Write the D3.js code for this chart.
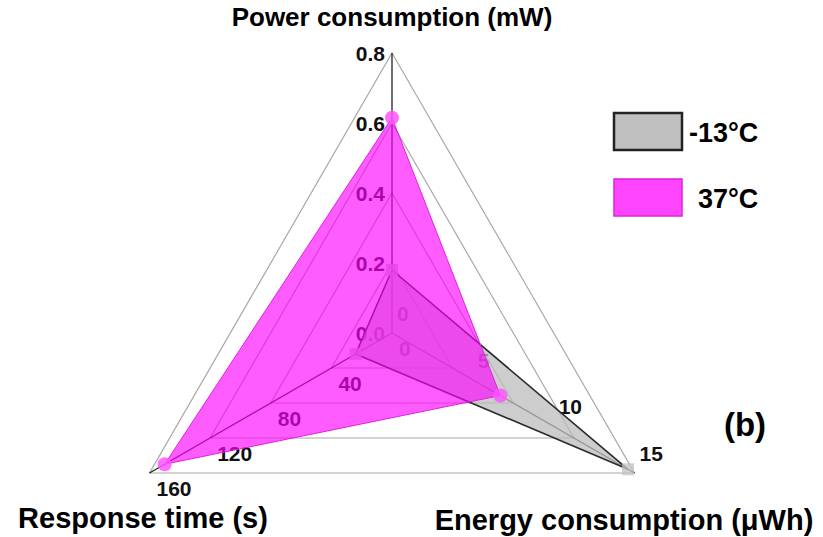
<!DOCTYPE html>
<html>
  <head>
    <title>Radar chart</title>
    <script src="https://d3js.org/d3.v7.min.js"></script>
    <style>
      body { margin: 0; background: #fff; }
      text { font-family: "Liberation Sans", Arial, sans-serif; font-weight: bold; }
    </style>
  </head>
  <body>
    <script>
      // axes of the radar, clockwise from the top
      const axisNames = ['Power consumption (mW)', 'Energy consumption (μWh)', 'Response time (s)'];
      const axisMax = [0.8, 15, 160];
      const powerTicks = [0.0, 0.2, 0.4, 0.6, 0.8];
      const energyTicks = [0, 5, 10, 15];
      const responseTicks = [0, 40, 80, 120, 160];
      const gridLevels = [0.25, 0.5, 0.75, 1];

      const seriesNames = ['-13°C', '37°C'];
      const coldValues = [0.18, 14.6, 24];
      const warmValues = [0.615, 6.7, 150];

      const w = 823;
      const h = 537;
      const cx = 392;
      const cy = 333;
      const R = 280;
      const angles = [-90, 30, 150].map(a => a * Math.PI / 180);

      const scales = axisMax.map(m => d3.scaleLinear().domain([0, m]).range([0, R]));
      const pt = (i, v) => {
        const r = scales[i](v);
        return [cx + r * Math.cos(angles[i]), cy + r * Math.sin(angles[i])];
      };

      const svg = d3.select('body')
                    .append('svg')
                    .attr('width', w)
                    .attr('height', h);

      const line = d3.line().curve(d3.curveLinearClosed);

      // grid triangles
      svg.append('g')
         .selectAll('path')
         .data(gridLevels)
         .enter()
         .append('path')
         .attr('d', f => line(axisMax.map((m, i) => pt(i, m * f))))
         .attr('fill', 'none')
         .attr('stroke', '#a8a8a8')
         .attr('stroke-width', 1.2);

      // axis spokes
      svg.append('g')
         .selectAll('line')
         .data(axisMax)
         .enter()
         .append('line')
         .attr('x1', cx)
         .attr('y1', cy)
         .attr('x2', (m, i) => pt(i, m)[0])
         .attr('y2', (m, i) => pt(i, m)[1])
         .attr('stroke', '#222')
         .attr('stroke-width', 1.3);

      // tick labels (drawn under the polygons so they tint through)
      const ticks = svg.append('g').attr('font-size', 21).attr('fill', '#111');
      ticks.selectAll('.tp')
           .data(powerTicks)
           .enter()
           .append('text')
           .attr('x', d => pt(0, d)[0] - 7)
           .attr('y', d => pt(0, d)[1] + 8)
           .attr('text-anchor', 'end')
           .text(d => d.toFixed(1));
      ticks.selectAll('.te')
           .data(energyTicks)
           .enter()
           .append('text')
           .attr('x', d => pt(1, d)[0] + 5)
           .attr('y', d => pt(1, d)[1] - 12)
           .text(d => d);
      ticks.selectAll('.tr')
           .data(responseTicks)
           .enter()
           .append('text')
           .attr('x', d => pt(2, d)[0] + 7)
           .attr('y', d => pt(2, d)[1] + 23)
           .text(d => d);

      // -13°C series
      svg.append('path')
         .attr('d', line(coldValues.map((v, i) => pt(i, v))))
         .attr('fill', '#bcbcbc')
         .attr('fill-opacity', 0.75)
         .attr('stroke', '#2a2a2a')
         .attr('stroke-width', 1.6);
      svg.append('g')
         .selectAll('rect')
         .data(coldValues)
         .enter()
         .append('rect')
         .attr('x', (v, i) => pt(i, v)[0] - 6)
         .attr('y', (v, i) => pt(i, v)[1] - 6)
         .attr('width', 12)
         .attr('height', 12)
         .attr('fill', '#c4c4c4')
         .attr('opacity', 0.8);

      // 37°C series
      svg.append('path')
         .attr('d', line(warmValues.map((v, i) => pt(i, v))))
         .attr('fill', '#ff00ff')
         .attr('fill-opacity', 0.64)
         .attr('stroke', '#e020e0')
         .attr('stroke-width', 1);
      svg.append('g')
         .selectAll('circle')
         .data(warmValues)
         .enter()
         .append('circle')
         .attr('cx', (v, i) => pt(i, v)[0])
         .attr('cy', (v, i) => pt(i, v)[1])
         .attr('r', 7)
         .attr('fill', '#ff55ff')
         .attr('opacity', 0.85);

      // axis titles
      svg.append('text')
         .attr('x', cx)
         .attr('y', 26)
         .attr('text-anchor', 'middle')
         .attr('font-size', 26)
         .text(axisNames[0]);
      svg.append('text')
         .attr('x', 624)
         .attr('y', 530)
         .attr('text-anchor', 'middle')
         .attr('font-size', 29)
         .text(axisNames[1]);
      svg.append('text')
         .attr('x', 143)
         .attr('y', 528)
         .attr('text-anchor', 'middle')
         .attr('font-size', 29)
         .text(axisNames[2]);

      // legend
      const legendFill = ['#c0c0c0', '#ff44ff'];
      const legendStroke = ['#222', '#e020e0'];
      const legend = svg.append('g');
      legend.selectAll('rect')
            .data(seriesNames)
            .enter()
            .append('rect')
            .attr('x', 614)
            .attr('y', (d, i) => 113 + i * 66)
            .attr('width', 68)
            .attr('height', 37)
            .attr('fill', (d, i) => legendFill[i])
            .attr('stroke', (d, i) => legendStroke[i])
            .attr('stroke-width', (d, i) => i === 0 ? 2.5 : 1.5);
      legend.selectAll('text')
            .data(seriesNames)
            .enter()
            .append('text')
            .attr('x', (d, i) => i === 0 ? 689 : 698)
            .attr('y', (d, i) => 142 + i * 66)
            .attr('font-size', 27)
            .text(d => d);

      svg.append('text')
         .attr('x', 745)
         .attr('y', 436)
         .attr('text-anchor', 'middle')
         .attr('font-size', 33)
         .text('(b)');
    </script>
  </body>
</html>
